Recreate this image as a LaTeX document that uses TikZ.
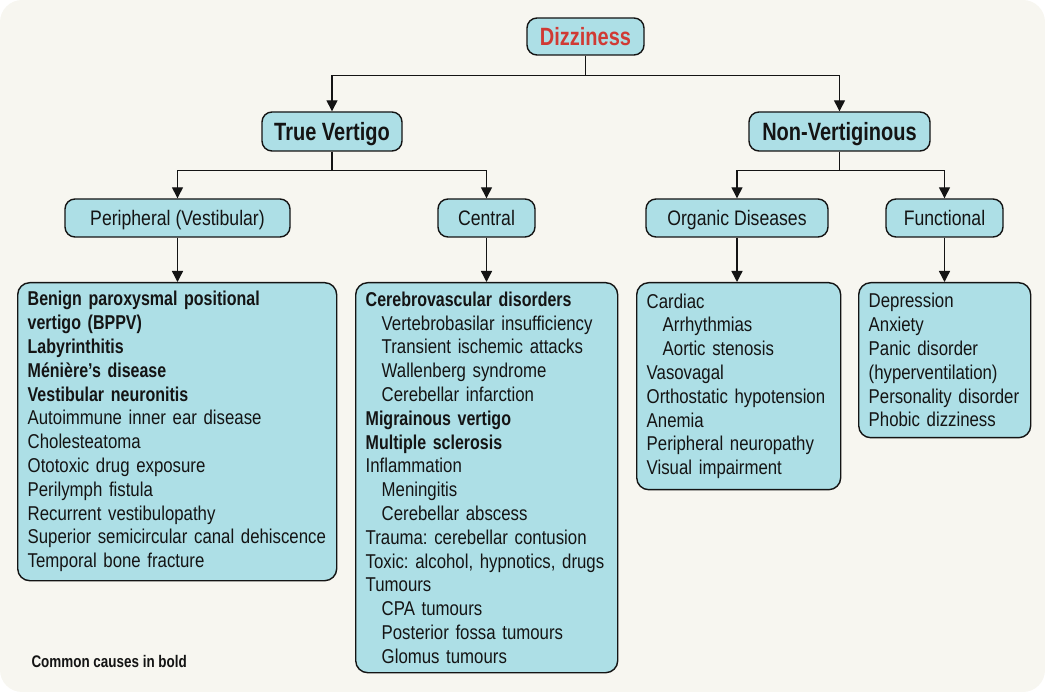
\documentclass[tikz,border=0pt]{standalone}
\usepackage{fontspec}
\setmainfont[FakeStretch=0.84, BoldFeatures={FakeStretch=0.8}]{Liberation Sans}
\usetikzlibrary{arrows.meta}
\definecolor{paper}{HTML}{F7F6F0}
\definecolor{boxfill}{HTML}{ADDFE6}
\definecolor{titlered}{HTML}{D03A34}
\definecolor{ink}{HTML}{141414}
\newcommand{\ind}{\hspace*{16pt}}

\begin{document}
\frenchspacing
\begin{tikzpicture}[x=1pt,y=-1pt]
\tikzset{edge/.style = {-{Triangle[length=11pt,width=11pt]}, line width=1.4pt, draw=ink}}
\tikzset{box/.style = {draw=ink, line width=1.4pt, fill=boxfill, rounded corners=10pt, inner sep=0pt, text=ink}}
\tikzset{head/.style = {box, font=\fontsize{25}{30}\selectfont\bfseries, minimum height=39pt, text height=23pt, text depth=5pt}}
\tikzset{sub/.style = {box, font=\fontsize{21}{25}\selectfont, minimum height=38pt, text height=19.5pt, text depth=4.5pt}}
\tikzset{list/.style = {box, rounded corners=12pt, anchor=north west, align=left, font=\fontsize{20}{23.8}\selectfont, inner xsep=10pt}}

% background card
\fill [paper, rounded corners=22pt] (0,0) rectangle (1045,692);

% top levels
\node [head, text=titlered, minimum width=117pt, minimum height=37pt] at (585.5,36.5) (dizzy) {Dizziness};
\node [head, minimum width=140pt] at (332,131.5) (vert) {True Vertigo};
\node [head, minimum width=181pt] at (839.5,131.5) (nonvert) {Non-Vertiginous};

\node [sub, minimum width=225pt] at (177.5,218) (periph) {Peripheral (Vestibular)};
\node [sub, minimum width=97pt] at (486.5,218) (central) {Central};
\node [sub, minimum width=182pt] at (737,218) (organic) {Organic Diseases};
\node [sub, minimum width=117pt] at (944.5,218) (functional) {Functional};

% lists
\node [list, text width=299pt, minimum height=298pt] at (17,282) (periphlist) {%
\textbf{Benign paroxysmal positional}\\
\textbf{vertigo (BPPV)}\\
\textbf{Labyrinthitis}\\
\textbf{Ménière’s disease}\\
\textbf{Vestibular neuronitis}\\
Autoimmune inner ear disease\\
Cholesteatoma\\
Ototoxic drug exposure\\
Perilymph fistula\\
Recurrent vestibulopathy\\
Superior semicircular canal dehiscence\\
Temporal bone fracture};

\node [list, text width=242pt, minimum height=390pt] at (355,282) (centrallist) {%
\textbf{Cerebrovascular disorders}\\
\ind Vertebrobasilar insufficiency\\
\ind Transient ischemic attacks\\
\ind Wallenberg syndrome\\
\ind Cerebellar infarction\\
\textbf{Migrainous vertigo}\\
\textbf{Multiple sclerosis}\\
Inflammation\\
\ind Meningitis\\
\ind Cerebellar abscess\\
Trauma: cerebellar contusion\\
Toxic: alcohol, hypnotics, drugs\\
Tumours\\
\ind CPA tumours\\
\ind Posterior fossa tumours\\
\ind Glomus tumours};

\node [list, text width=184pt, minimum height=207pt] at (636,282) (organiclist) {%
Cardiac\\
\ind Arrhythmias\\
\ind Aortic stenosis\\
Vasovagal\\
Orthostatic hypotension\\
Anemia\\
Peripheral neuropathy\\
Visual impairment};

\node [list, text width=152pt, minimum height=155pt] at (858,282) (functionallist) {%
Depression\\
Anxiety\\
Panic disorder\\
(hyperventilation)\\
Personality disorder\\
Phobic dizziness};

% connectors
\draw [edge] (dizzy.south) -- ++(0,20) -| (vert);
\draw [edge] (dizzy.south) -- ++(0,20) -| (nonvert);
\draw [edge] (vert.south) -- ++(0,19) -| (periph);
\draw [edge] (vert.south) -- ++(0,19) -| (central);
\draw [edge] (nonvert.south) -- ++(0,19) -| (organic);
\draw [edge] (nonvert.south) -- ++(0,19) -| (functional);
\draw [edge] (periph.south) -- (periph.south |- periphlist.north);
\draw [edge] (central.south) -- (central.south |- centrallist.north);
\draw [edge] (organic.south) -- (organic.south |- organiclist.north);
\draw [edge] (functional.south) -- (functional.south |- functionallist.north);

\node [font=\fontsize{16.8}{19}\selectfont\bfseries, text=ink, anchor=west] at (28,661) (note) {Common causes in bold};
\end{tikzpicture}
\end{document}
